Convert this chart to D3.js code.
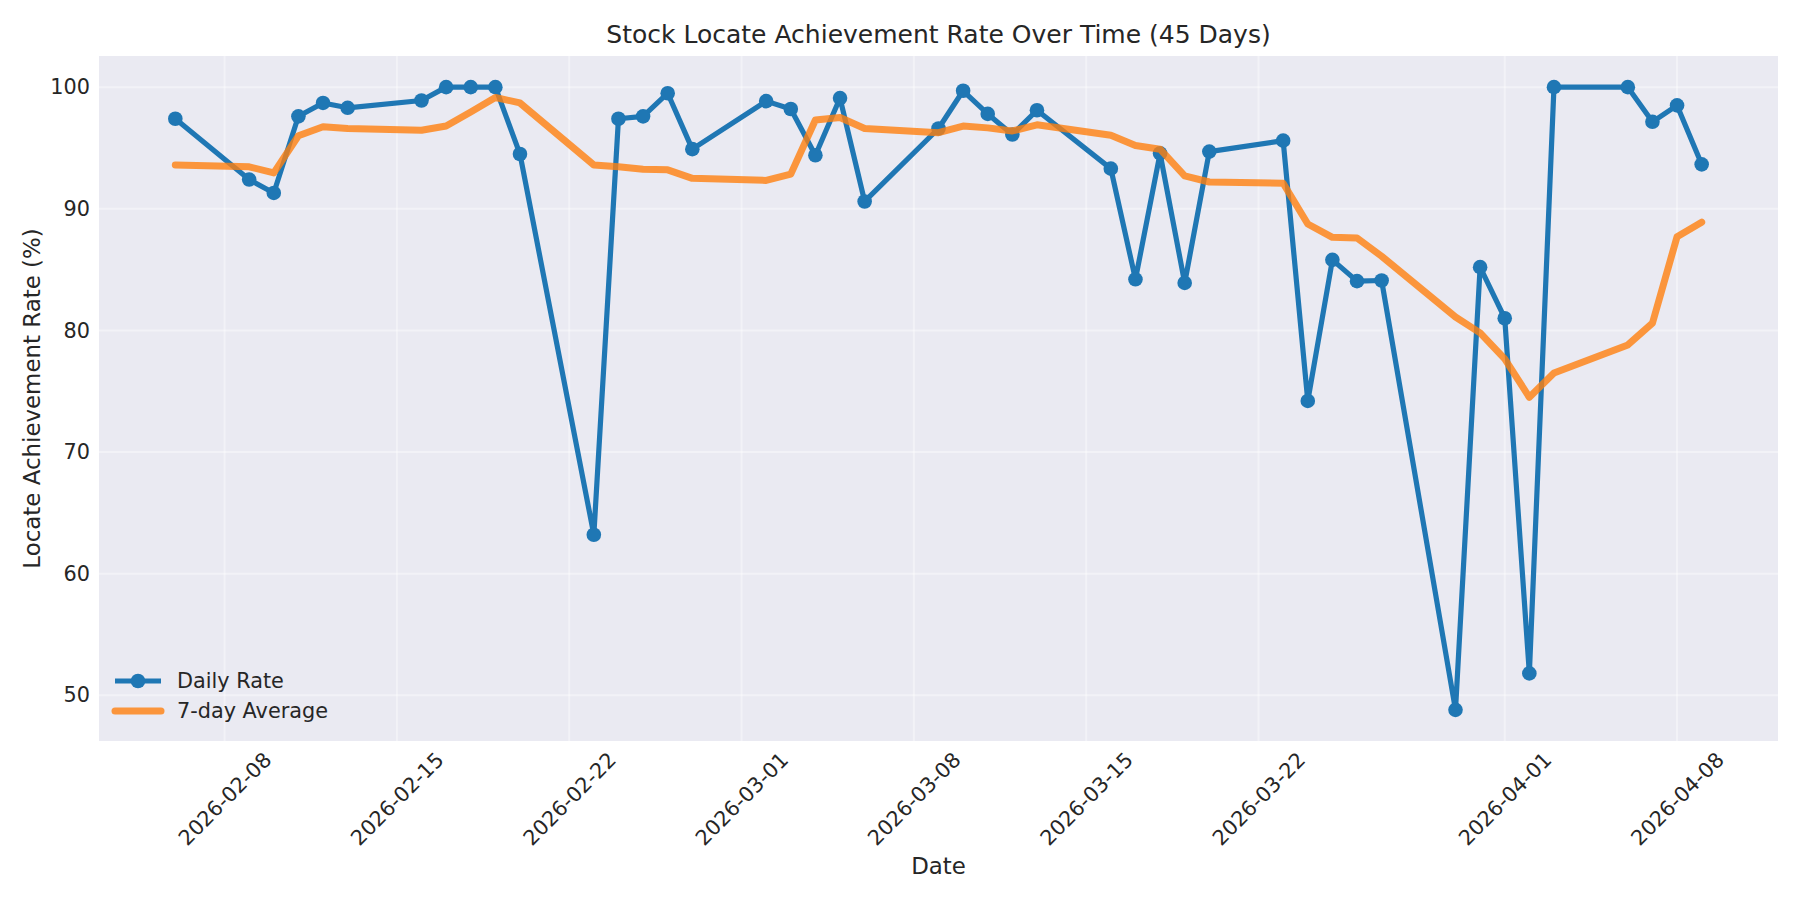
<!DOCTYPE html>
<html>
<head>
<meta charset="utf-8">
<script src="https://cdn.jsdelivr.net/npm/d3@7"></script>
<style>
  html, body { margin: 0; padding: 0; background: #ffffff; }
  svg { display: block; font-family: "DejaVu Sans", sans-serif; }
</style>
</head>
<body>
<svg id="chart" width="1800" height="900"></svg>
<script>
// ---- Data ----
const dates = [
  "2026-02-06","2026-02-09","2026-02-10","2026-02-11","2026-02-12","2026-02-13",
  "2026-02-16","2026-02-17","2026-02-18","2026-02-19","2026-02-20",
  "2026-02-23","2026-02-24","2026-02-25","2026-02-26","2026-02-27",
  "2026-03-02","2026-03-03","2026-03-04","2026-03-05","2026-03-06",
  "2026-03-09","2026-03-10","2026-03-11","2026-03-12","2026-03-13",
  "2026-03-16","2026-03-17","2026-03-18","2026-03-19","2026-03-20",
  "2026-03-23","2026-03-24","2026-03-25","2026-03-26","2026-03-27",
  "2026-03-30","2026-03-31","2026-04-01","2026-04-02","2026-04-03",
  "2026-04-06","2026-04-07","2026-04-08","2026-04-09"
];
const dailyRate = [
  97.4, 92.4, 91.3, 97.6, 98.7, 98.3,
  98.9, 100.0, 100.0, 100.0, 94.5,
  63.2, 97.4, 97.6, 99.5, 94.9,
  98.85, 98.2, 94.4, 99.1, 90.6,
  96.6, 99.7, 97.8, 96.1, 98.1,
  93.3, 84.2, 94.55, 83.9, 94.7,
  95.6, 74.2, 85.8, 84.05, 84.1,
  48.8, 85.2, 81.0, 51.8, 100.0,
  100.0, 97.15, 98.5, 93.65
];
const avg7 = [
  93.6, 93.45, 92.95, 96.0, 96.75, 96.6,
  96.45, 96.8, 97.95, 99.15, 98.7,
  93.6, 93.45, 93.25, 93.2, 92.5,
  92.33, 92.85, 97.3, 97.5, 96.6,
  96.25, 96.8, 96.65, 96.4, 96.9,
  96.05, 95.2, 94.9, 92.7, 92.2,
  92.1, 88.75, 87.65, 87.6, 86.1,
  81.1, 79.8, 77.65, 74.5, 76.5,
  78.8, 80.6, 87.7, 88.9
];
const xTickLabels = ["2026-02-08","2026-02-15","2026-02-22","2026-03-01","2026-03-08","2026-03-15","2026-03-22","2026-04-01","2026-04-08"];
const yTickValues = [50, 60, 70, 80, 90, 100];

const titleText = "Stock Locate Achievement Rate Over Time (45 Days)";
const xLabel = "Date";
const yLabel = "Locate Achievement Rate (%)";
const seriesNames = ["Daily Rate", "7-day Average"];

// ---- Layout ----
const W = 1800, H = 900;
const plot = { left: 99, right: 1778, top: 56, bottom: 741 };
const textColor = "#262626";
const blue = "#1f77b4", orange = "#ff7f0e";

const parse = d3.utcParse("%Y-%m-%d");
const rows = dates.map((d, i) => ({ date: parse(d), daily: dailyRate[i], avg: avg7[i] }));

// domains with 5% margins (like matplotlib)
const xExt = d3.extent(rows, r => r.date.getTime());
const xPad = (xExt[1] - xExt[0]) * 0.05;
const x = d3.scaleUtc()
  .domain([new Date(xExt[0] - xPad), new Date(xExt[1] + xPad)])
  .range([plot.left, plot.right]);

const allY = dailyRate.concat(avg7);
const yMin = d3.min(allY), yMax = d3.max(allY);
const yPad = (yMax - yMin) * 0.05;
const y = d3.scaleLinear()
  .domain([yMin - yPad, yMax + yPad])
  .range([plot.bottom, plot.top]);

const svg = d3.select("#chart");

// background
svg.append("rect").attr("x", 0).attr("y", 0).attr("width", W).attr("height", H).attr("fill", "#ffffff");
svg.append("rect")
  .attr("x", plot.left).attr("y", plot.top)
  .attr("width", plot.right - plot.left).attr("height", plot.bottom - plot.top)
  .attr("fill", "#eaeaf2");

// grid
const xTickDates = xTickLabels.map(parse);
const grid = svg.append("g").attr("stroke", "#ffffff").attr("stroke-opacity", 0.4).attr("stroke-width", 2);
grid.selectAll("line.vx").data(xTickDates).join("line")
  .attr("x1", d => x(d)).attr("x2", d => x(d))
  .attr("y1", plot.top).attr("y2", plot.bottom);
grid.selectAll("line.hy").data(yTickValues).join("line")
  .attr("x1", plot.left).attr("x2", plot.right)
  .attr("y1", d => y(d)).attr("y2", d => y(d));

// axes (using d3 axes, no tick lines / domain)
const xAxis = d3.axisBottom(x).tickValues(xTickDates).tickFormat(d3.utcFormat("%Y-%m-%d")).tickSize(0).tickPadding(0);
const gx = svg.append("g").attr("transform", `translate(0,${plot.bottom})`).call(xAxis);
gx.select(".domain").remove();
gx.selectAll("text")
  .attr("fill", textColor)
  .attr("font-size", "20.8px")
  .attr("font-family", "DejaVu Sans, sans-serif")
  .attr("text-anchor", "middle")
  .attr("dy", null)
  .attr("y", null)
  .attr("dominant-baseline", "central")
  .attr("transform", "translate(0,58) rotate(-45)");

const yAxis = d3.axisLeft(y).tickValues(yTickValues).tickFormat(d3.format("d")).tickSize(0).tickPadding(9);
const gy = svg.append("g").attr("transform", `translate(${plot.left},0)`).call(yAxis);
gy.select(".domain").remove();
gy.selectAll("text")
  .attr("fill", textColor)
  .attr("font-size", "20.8px")
  .attr("font-family", "DejaVu Sans, sans-serif");

// lines
const clip = svg.append("defs").append("clipPath").attr("id", "clip")
  .append("rect").attr("x", plot.left).attr("y", plot.top)
  .attr("width", plot.right - plot.left).attr("height", plot.bottom - plot.top);
const plotG = svg.append("g").attr("clip-path", "url(#clip)");

const dailyLine = d3.line().x(d => x(d.date)).y(d => y(d.daily));
const avgLine = d3.line().x(d => x(d.date)).y(d => y(d.avg));

plotG.append("path").datum(rows)
  .attr("d", dailyLine)
  .attr("fill", "none").attr("stroke", blue).attr("stroke-width", 5.2)
  .attr("stroke-linejoin", "round").attr("stroke-linecap", "butt");
plotG.selectAll("circle.daily").data(rows).join("circle")
  .attr("cx", d => x(d.date)).attr("cy", d => y(d.daily)).attr("r", 7.3)
  .attr("fill", blue);

plotG.append("path").datum(rows)
  .attr("d", avgLine)
  .attr("fill", "none").attr("stroke", orange).attr("stroke-opacity", 0.8).attr("stroke-width", 7)
  .attr("stroke-linejoin", "round").attr("stroke-linecap", "round");

// title & labels
svg.append("text")
  .attr("x", (plot.left + plot.right) / 2).attr("y", 43)
  .attr("text-anchor", "middle").attr("fill", textColor)
  .attr("font-size", "25px").text(titleText);
svg.append("text")
  .attr("x", (plot.left + plot.right) / 2).attr("y", 866)
  .attr("text-anchor", "middle").attr("dominant-baseline", "central").attr("fill", textColor)
  .attr("font-size", "22.9px").text(xLabel);
svg.append("text")
  .attr("transform", `translate(32,${(plot.top + plot.bottom) / 2}) rotate(-90)`)
  .attr("text-anchor", "middle").attr("dominant-baseline", "central").attr("fill", textColor)
  .attr("font-size", "22.9px").text(yLabel);

// legend
const leg = svg.append("g");
const legY = [681, 711];
leg.append("line").attr("x1", 115).attr("x2", 161).attr("y1", legY[0]).attr("y2", legY[0])
  .attr("stroke", blue).attr("stroke-width", 5.2);
leg.append("circle").attr("cx", 138).attr("cy", legY[0]).attr("r", 7.3).attr("fill", blue);
leg.append("line").attr("x1", 115).attr("x2", 161).attr("y1", legY[1]).attr("y2", legY[1])
  .attr("stroke", orange).attr("stroke-opacity", 0.8).attr("stroke-width", 7).attr("stroke-linecap", "round");
leg.selectAll("text").data(seriesNames).join("text")
  .attr("x", 177).attr("y", (d, i) => legY[i])
  .attr("dominant-baseline", "central").attr("fill", textColor)
  .attr("font-size", "20.8px").text(d => d);
</script>
</body>
</html>
